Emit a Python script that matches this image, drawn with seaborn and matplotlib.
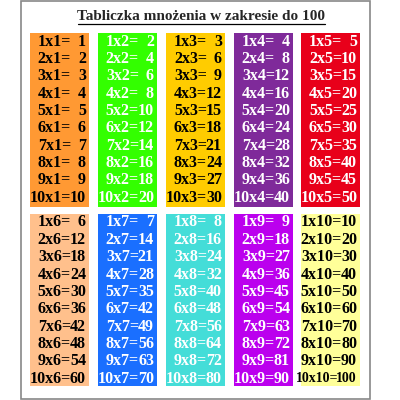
import matplotlib.pyplot as plt
import seaborn as sns

sns.set_style("white")
plt.rcParams['font.family'] = ['Liberation Serif', 'DejaVu Serif']

title = "Tabliczka mnożenia w zakresie do 100"
factors = [1, 2, 3, 4, 5, 6, 7, 8, 9, 10]
multipliers = [1, 2, 3, 4, 5, 6, 7, 8, 9, 10]
fill_colors = ['#FF9933', '#33FF00', '#FFCC00', '#7F2A9A', '#E8001A',
               '#FFC08C', '#1A6FFF', '#44DDD8', '#BB00EE', '#FFFF99']
text_colors = ['black', 'white', 'black', 'white', 'white',
               'black', 'white', 'white', 'white', 'black']

fig = plt.figure(figsize=(4, 4), dpi=100)
ax = fig.add_axes([0, 0, 1, 1])
ax.set_xlim(0, 400)
ax.set_ylim(400, 0)
ax.axis('off')

# outer frame
ax.add_patch(plt.Rectangle((21, 1), 349, 398, fill=False, edgecolor='#888888', lw=1.2))
ax.text(201, 16, title, ha='center', va='center', fontsize=11, fontweight='bold')
ax.plot([78, 325], [24, 24], color='black', lw=0.9)

col_left = [30, 98, 166, 234, 301]
col_w = 59
block_top = [33, 214]
block_h = [174, 172]
row_h = 17.35

for i, m in enumerate(multipliers):
    blk = i // 5
    x0 = col_left[i % 5]
    ax.bar(x0, block_h[blk], width=col_w, bottom=block_top[blk], align='edge',
           color=fill_colors[i], edgecolor='none')
    for j, f in enumerate(factors):
        y = block_top[blk] + 8.5 + j * row_h
        xr = x0 + col_w - 3
        prod = f * m
        fs = 11.5 if prod < 100 else 10
        pw = 14.5 if prod < 100 else 18
        ax.text(xr - pw - 0.5, y, f"{f}x{m}=", ha='right', va='center', fontsize=fs,
                fontweight='bold', color=text_colors[i])
        ax.text(xr, y, str(prod), ha='right', va='center', fontsize=fs,
                fontweight='bold', color=text_colors[i])

fig.savefig('out.png', dpi=100)
